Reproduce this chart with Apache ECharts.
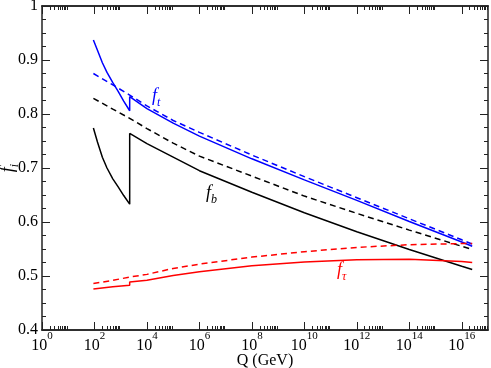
<!DOCTYPE html>
<html><head><meta charset="utf-8">
<script src="https://cdn.jsdelivr.net/npm/echarts@6/dist/echarts.min.js"></script>
<style>html,body{margin:0;padding:0;background:#fff}#c{width:491px;height:368px}</style>
</head><body><div id="c"></div>
<script>
// Q in GeV; the duplicated 2200 marks the threshold jump
const qCurved = [91, 130, 200, 300, 500, 800, 1300, 2200, 2200, 1e4, 1e5, 1e6, 1e8, 1e10, 1e12, 1e14, 1e16, 2.5e16];
const qPlain  = [91, 500, 2200, 2200, 1e4, 1e5, 1e6, 1e8, 1e10, 1e12, 1e14, 1e16, 2.5e16];
const ftSolid  = [0.937, 0.918, 0.895, 0.877, 0.858, 0.842, 0.824, 0.806, 0.832, 0.810, 0.783, 0.759, 0.717, 0.678, 0.640, 0.601, 0.563, 0.555];
const fbSolid  = [0.774, 0.748, 0.720, 0.700, 0.680, 0.665, 0.649, 0.633, 0.764, 0.745, 0.720, 0.695, 0.655, 0.617, 0.582, 0.549, 0.518, 0.512];
const ftDashed = [0.875, 0.854, 0.835, 0.835, 0.815, 0.788, 0.766, 0.724, 0.684, 0.645, 0.606, 0.567, 0.559];
const fbDashed = [0.829, 0.809, 0.792, 0.792, 0.773, 0.746, 0.722, 0.685, 0.648, 0.616, 0.585, 0.555, 0.549];
const ftauSolid  = [0.476, 0.480, 0.483, 0.489, 0.492, 0.501, 0.508, 0.519, 0.526, 0.530, 0.531, 0.527, 0.525];
const ftauDashed = [0.486, 0.492, 0.498, 0.498, 0.503, 0.514, 0.522, 0.535, 0.545, 0.553, 0.558, 0.560, 0.560];
// tick labels
const majorExponents = [0, 2, 4, 6, 8, 10, 12, 14, 16];
const minorMantissas = [2, 3, 4, 5, 6, 7, 8, 9];

const majorTicks = majorExponents.map(e => Math.pow(10, e));
const minorTicks = [];
majorExponents.forEach(e => minorMantissas.forEach(m => minorTicks.push(m * Math.pow(10, e))));

const FONT = "'Liberation Serif', serif";
const AX = '#222';
const chart = echarts.init(document.getElementById('c'), null, {renderer: 'canvas'});

function xAx(pos, ticks, len, labels) {
  return {
    type: 'log', logBase: 10, min: 1, max: 1e17, position: pos,
    axisLine: {show: true, onZero: false, lineStyle: {color: AX, width: 1.5}},
    axisTick: {show: true, inside: true, length: len, customValues: ticks, lineStyle: {color: AX, width: 1}},
    minorTick: {show: false}, splitLine: {show: false},
    axisLabel: labels ? {
      show: true, customValues: majorTicks, margin: 1,
      formatter: v => '{b|10}{s|' + Math.round(Math.log10(v)) + '}',
      rich: {
        b: {fontFamily: FONT, fontSize: 16, color: '#000', verticalAlign: 'bottom', padding: [7, 0, 0, 0]},
        s: {fontFamily: FONT, fontSize: 11, color: '#000', verticalAlign: 'top'}
      }
    } : {show: false},
    name: labels ? 'Q (GeV)' : '', nameLocation: 'middle', nameGap: 23, nameMoveOverlap: false,
    nameTextStyle: {fontFamily: FONT, fontSize: 16, color: '#000'}
  };
}
function yAx(pos, labels) {
  return {
    type: 'value', min: 0.4, max: 1, interval: 0.1, position: pos,
    axisLine: {show: true, onZero: false, lineStyle: {color: AX, width: 1.5}},
    axisTick: {show: true, inside: true, length: 8, lineStyle: {color: AX, width: 1}},
    minorTick: {show: true, splitNumber: 4, length: 4, lineStyle: {color: AX, width: 1}},
    splitLine: {show: false}, minorSplitLine: {show: false},
    axisLabel: labels ? {show: true, margin: 4, fontFamily: FONT, fontSize: 16, color: '#000',
      formatter: v => String(+v.toFixed(1))} : {show: false},
    name: labels ? '{f|f}{i|i}' : '', nameLocation: 'middle', nameGap: 21, nameRotate: 90, nameMoveOverlap: false,
    nameTextStyle: {rich: {
      f: {fontFamily: FONT, fontStyle: 'italic', fontSize: 18, color: '#000', verticalAlign: 'top', padding: [0, 0, 4, 0]},
      i: {fontFamily: FONT, fontStyle: 'italic', fontSize: 12, color: '#000', verticalAlign: 'bottom'}
    }}
  };
}
function line(qs, vals, color, dashed) {
  return {
    type: 'line', xAxisIndex: 0, yAxisIndex: 0, showSymbol: false, symbol: 'none', smooth: false,
    data: qs.map((q, i) => [q, vals[i]]),
    lineStyle: {color: color, width: 1.5, type: dashed ? [6, 4] : 'solid'},
    silent: true, animation: false
  };
}
function tag(x, y, sub, color) {
  return {type: 'text', left: x, top: y, silent: true,
    style: {text: '{f|f}{s|' + sub + '}', rich: {
      f: {fontFamily: FONT, fontStyle: 'italic', fontSize: 18, fill: color, verticalAlign: 'top', padding: [0, 0, 4, 0]},
      s: {fontFamily: FONT, fontStyle: 'italic', fontSize: 12, fill: color, verticalAlign: 'bottom'}
    }}};
}
chart.setOption({
  animation: false,
  backgroundColor: '#fff',
  grid: {left: 42, right: 3, top: 6, bottom: 38, containLabel: false, outerBoundsMode: 'none'},
  xAxis: [xAx('bottom', majorTicks, 8, true), xAx('bottom', minorTicks, 4, false),
          xAx('top', majorTicks, 8, false), xAx('top', minorTicks, 4, false)],
  yAxis: [yAx('left', true), yAx('right', false)],
  series: [
    line(qPlain, ftDashed, '#0000ff', true), line(qCurved, ftSolid, '#0000ff', false),
    line(qPlain, fbDashed, '#000000', true), line(qCurved, fbSolid, '#000000', false),
    line(qPlain, ftauDashed, '#ff0000', true), line(qPlain, ftauSolid, '#ff0000', false)
  ],
  graphic: [tag(152, 87, 't', '#0000ff'), tag(206, 184, 'b', '#000'), tag(337, 261, 'τ', '#ff0000')]
});
</script></body></html>
